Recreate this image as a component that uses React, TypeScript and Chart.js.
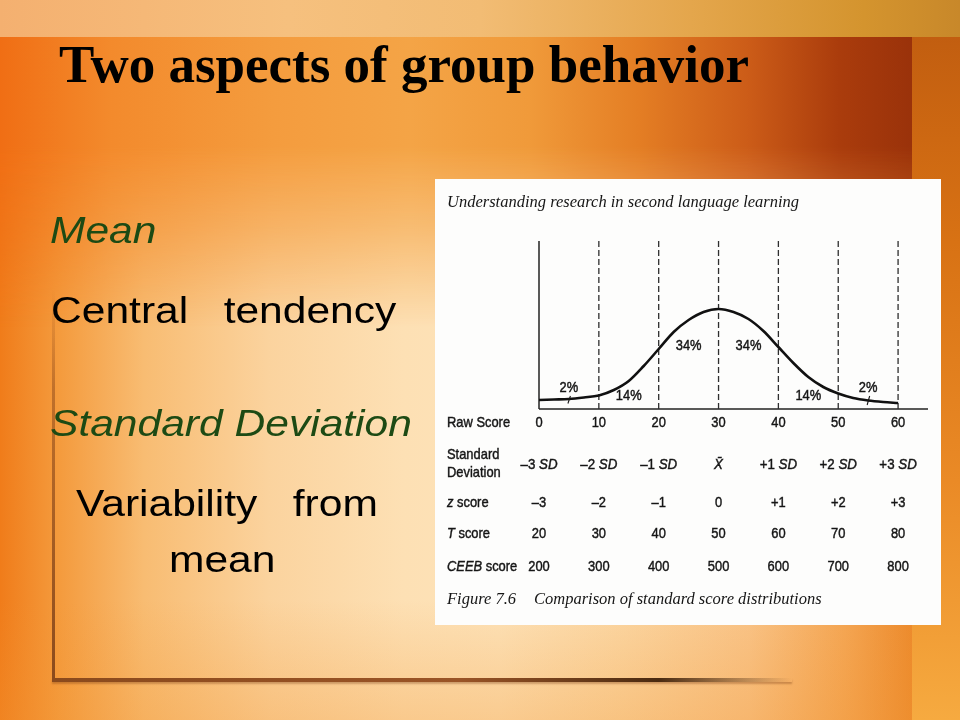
import React, { useEffect, useRef } from 'react';
import { Chart, registerables } from 'chart.js';

Chart.register(...registerables);

// ---- data ----
const curveX = [0, 2.5, 5, 7.5, 10, 12.5, 15, 17.5, 20, 22.5, 25, 27.5, 30, 32.5, 35, 37.5, 40, 42.5, 45, 47.5, 50, 52.5, 55, 57.5, 60];
const curveY = [9, 9.5, 10, 11.5, 13.5, 19, 28, 43, 60, 77, 89, 97, 100, 97, 90, 78, 62, 46, 32, 22, 15.5, 11, 8.5, 7, 6];
const sdLines = [10, 20, 30, 40, 50, 60];
const pctLabels = ['2%', '14%', '34%', '34%', '14%', '2%'];
const pctX = [5, 15, 25, 35, 45, 55];
const pctY = [21, 13, 63, 63, 13, 21];
const leaderIdx = [0, 5];
const rawScores = [0, 10, 20, 30, 40, 50, 60];
const sdLabels = ['–3 SD', '–2 SD', '–1 SD', 'X\u0304', '+1 SD', '+2 SD', '+3 SD'];
const zScores = ['–3', '–2', '–1', '0', '+1', '+2', '+3'];
const tScores = [20, 30, 40, 50, 60, 70, 80];
const ceebScores = [200, 300, 400, 500, 600, 700, 800];
const headerText = 'Understanding research in second language learning';
const captionNum = 'Figure 7.6';
const captionText = 'Comparison of standard score distributions';

const X_MAX = 65;
const Y_MAX = 168;
const SANS = '"Liberation Sans", Arial, Helvetica, sans-serif';
const SERIF = '"Liberation Serif", "Times New Roman", "DejaVu Serif", serif';
const TXT = 15;
const SQUEEZE = 0.86;

type Part = [string, boolean];

function drawRich(ctx: CanvasRenderingContext2D, parts: Part[], x: number, y: number, align: 'left' | 'center', size = TXT) {
  const fonts = parts.map(([, it]) => `${it ? 'italic ' : ''}${size}px ${SANS}`);
  const widths = parts.map(([t], i) => {
    ctx.font = fonts[i];
    return ctx.measureText(t).width;
  });
  const total = widths.reduce((a, b) => a + b, 0) * SQUEEZE;
  const start = align === 'center' ? x - total / 2 : x;
  ctx.save();
  ctx.translate(start, y);
  ctx.scale(SQUEEZE, 1);
  ctx.textAlign = 'left';
  ctx.lineWidth = 0.45;
  let cx = 0;
  parts.forEach(([t], i) => {
    ctx.font = fonts[i];
    ctx.fillText(t, cx, 0);
    ctx.strokeText(t, cx, 0);
    cx += widths[i];
  });
  ctx.restore();
}

const tablePlugin = {
  id: 'scoreTable',
  afterDatasetsDraw(chart: any) {
    const ctx: CanvasRenderingContext2D = chart.ctx;
    const xs = chart.scales.x;
    const ys = chart.scales.y;
    ctx.save();
    ctx.fillStyle = '#161616';
    ctx.strokeStyle = '#161616';

    // percentage labels
    ctx.textBaseline = 'middle';
    pctLabels.forEach((t, i) => {
      drawRich(ctx, [[t, false]], xs.getPixelForValue(pctX[i]), ys.getPixelForValue(pctY[i]), 'center');
    });
    // leader ticks for the 2% labels
    ctx.lineWidth = 1.1;
    leaderIdx.forEach((i) => {
      const px = xs.getPixelForValue(pctX[i]);
      const ci = curveX.indexOf(pctX[i]);
      const top = ys.getPixelForValue(pctY[i]) + 8;
      const bot = ys.getPixelForValue(curveY[ci]) + 4.5;
      ctx.beginPath();
      ctx.moveTo(px + 1.5, top);
      ctx.lineTo(px - 1, bot);
      ctx.stroke();
    });

    // header and caption
    ctx.textBaseline = 'alphabetic';
    ctx.textAlign = 'left';
    ctx.font = `italic 16.5px ${SERIF}`;
    ctx.fillText(headerText, 12, 28);
    ctx.fillText(captionNum, 12, 425);
    ctx.fillText(captionText, 99, 425);

    // table
    ctx.textBaseline = 'middle';
    const rowRaw = 244, rowStd1 = 276, rowStd2 = 294, rowSd = 286, rowZ = 324, rowT = 355, rowC = 388;
    const lx = 12;
    drawRich(ctx, [['Raw Score', false]], lx, rowRaw, 'left');
    drawRich(ctx, [['Standard', false]], lx, rowStd1, 'left');
    drawRich(ctx, [['Deviation', false]], lx, rowStd2, 'left');
    drawRich(ctx, [['z', true], [' score', false]], lx, rowZ, 'left');
    drawRich(ctx, [['T', true], [' score', false]], lx, rowT, 'left');
    drawRich(ctx, [['CEEB', true], [' score', false]], lx, rowC, 'left');

    rawScores.forEach((v, i) => {
      const px = xs.getPixelForValue(v);
      drawRich(ctx, [[String(v), false]], px, rowRaw, 'center');
      const sd = sdLabels[i];
      const parts: Part[] = sd.endsWith(' SD') ? [[sd.slice(0, -3), false], [' SD', true]] : [[sd, true]];
      drawRich(ctx, parts, px, rowSd, 'center', 15.5);
      drawRich(ctx, [[zScores[i], false]], px, rowZ, 'center');
      drawRich(ctx, [[String(tScores[i]), false]], px, rowT, 'center');
      drawRich(ctx, [[String(ceebScores[i]), false]], px, rowC, 'center');
    });
    ctx.restore();
  },
};

function NormalChart() {
  const ref = useRef<HTMLCanvasElement | null>(null);
  useEffect(() => {
    if (!ref.current) return;
    const datasets: any[] = [];
    datasets.push({
      data: curveX.map((x, i) => ({ x, y: curveY[i] })),
      borderColor: '#111',
      borderWidth: 2.6,
      pointRadius: 0,
      cubicInterpolationMode: 'monotone',
      fill: false,
      clip: 6,
    });
    sdLines.forEach((v) =>
      datasets.push({
        data: [{ x: v, y: 0 }, { x: v, y: Y_MAX }],
        borderColor: '#2e2e2e',
        borderWidth: 1.3,
        borderDash: [6, 3],
        pointRadius: 0,
        clip: 6,
      })
    );
    datasets.push({
      data: [{ x: 0, y: 0 }, { x: 0, y: Y_MAX }],
      borderColor: '#222',
      borderWidth: 1.5,
      pointRadius: 0,
      clip: 6,
    });
    datasets.push({
      data: [{ x: 0, y: 0 }, { x: X_MAX, y: 0 }],
      borderColor: '#222',
      borderWidth: 1.6,
      pointRadius: 0,
      clip: 6,
    });
    const chart = new Chart(ref.current, {
      type: 'line',
      data: { datasets },
      options: {
        animation: false,
        responsive: false,
        events: [],
        layout: { padding: { left: 104, right: 13, top: 62, bottom: 216 } },
        plugins: { legend: { display: false }, tooltip: { enabled: false }, title: { display: false } },
        scales: {
          x: { type: 'linear', min: 0, max: X_MAX, display: false },
          y: { type: 'linear', min: 0, max: Y_MAX, display: false },
        },
      },
      plugins: [tablePlugin],
    } as any);
    return () => chart.destroy();
  }, []);
  return <canvas ref={ref} width={506} height={446} style={{ width: 506, height: 446, display: 'block' }} />;
}

const bulletBase: React.CSSProperties = {
  position: 'absolute',
  fontFamily: SANS,
  fontSize: 37,
  lineHeight: '37px',
  whiteSpace: 'pre',
  transform: 'scaleX(1.15)',
  transformOrigin: 'left top',
};

const upperMask = 'linear-gradient(180deg, #000 0px, #000 110px, rgba(0,0,0,0.6) 190px, rgba(0,0,0,0) 290px)';

export default function App() {
  return (
    <div
      style={{
        position: 'fixed',
        left: 0,
        top: 0,
        width: 960,
        height: 720,
        overflow: 'hidden',
        background: [
          'linear-gradient(180deg, rgba(240,140,40,0) 0px, rgba(240,140,40,0) 600px, rgba(242,150,50,0.3) 720px)',
          'linear-gradient(90deg, #f07c1a 0%, #f49a3c 6%, #f8bc72 15%, #fbd39e 28%, #fde0b4 42%, #fde2b8 52%, #fbd6a2 65%, #f9c488 78%, #f4a654 88%, #ec8a2c 95%)',
        ].join(','),
      }}
    >
      <div
        style={{
          position: 'absolute',
          left: 0,
          top: 37,
          width: 912,
          height: 300,
          background:
            'linear-gradient(90deg, #f06e14 0%, #f38a2c 12%, #f49c3e 30%, #f4a446 45%, #f09a3a 58%, #e47e24 70%, #cc5c18 82%, #aa3c0c 92%, #9a320a 100%)',
          WebkitMaskImage: upperMask,
          maskImage: upperMask,
        } as React.CSSProperties}
      />
      <div
        style={{
          position: 'absolute',
          left: 0,
          top: 0,
          width: 960,
          height: 37,
          background: 'linear-gradient(90deg, #f4b070 0%, #f6c07e 30%, #f2bc74 50%, #e4a64c 72%, #d4942e 90%, #c8882a 100%)',
        }}
      />
      <div
        style={{
          position: 'absolute',
          left: 912,
          top: 37,
          width: 48,
          height: 683,
          background: 'linear-gradient(180deg, #c25e10 0%, #d87214 30%, #ea8a26 65%, #f6aa40 100%)',
        }}
      />
      <div
        style={{
          position: 'absolute',
          left: 52,
          top: 290,
          width: 3,
          height: 391,
          background: 'linear-gradient(180deg, rgba(150,80,30,0) 0%, rgba(150,80,30,0.55) 25%, #8b4a1c 100%)',
        }}
      />
      <div
        style={{
          position: 'absolute',
          left: 52,
          top: 678,
          width: 740,
          height: 4,
          background: 'linear-gradient(90deg, #8b4a1c 0%, #9a5426 55%, #4a2a10 82%, rgba(60,30,10,0) 100%)',
          boxShadow: '0 2px 2px rgba(120,60,20,0.35)',
        }}
      />
      <div
        style={{
          position: 'absolute',
          left: 59,
          top: 37.6,
          fontFamily: SERIF,
          fontWeight: 'bold',
          fontSize: 53,
          lineHeight: '53px',
          color: '#000',
          whiteSpace: 'pre',
        }}
      >
        Two aspects of group behavior
      </div>
      <div style={{ ...bulletBase, left: 50, top: 212, color: '#1d4a14', fontStyle: 'italic' }}>Mean</div>
      <div style={{ ...bulletBase, left: 51, top: 292.4, color: '#000' }}>{'Central   tendency'}</div>
      <div style={{ ...bulletBase, left: 50, top: 404.7, color: '#1d4a14', fontStyle: 'italic' }}>Standard Deviation</div>
      <div style={{ ...bulletBase, left: 76, top: 485.2, color: '#000' }}>{'Variability   from'}</div>
      <div style={{ ...bulletBase, left: 169, top: 540.7, color: '#000' }}>mean</div>
      <div
        style={{
          position: 'absolute',
          left: 435,
          top: 179,
          width: 506,
          height: 446,
          background: '#fdfdfc',
        }}
      >
        <NormalChart />
      </div>
    </div>
  );
}
